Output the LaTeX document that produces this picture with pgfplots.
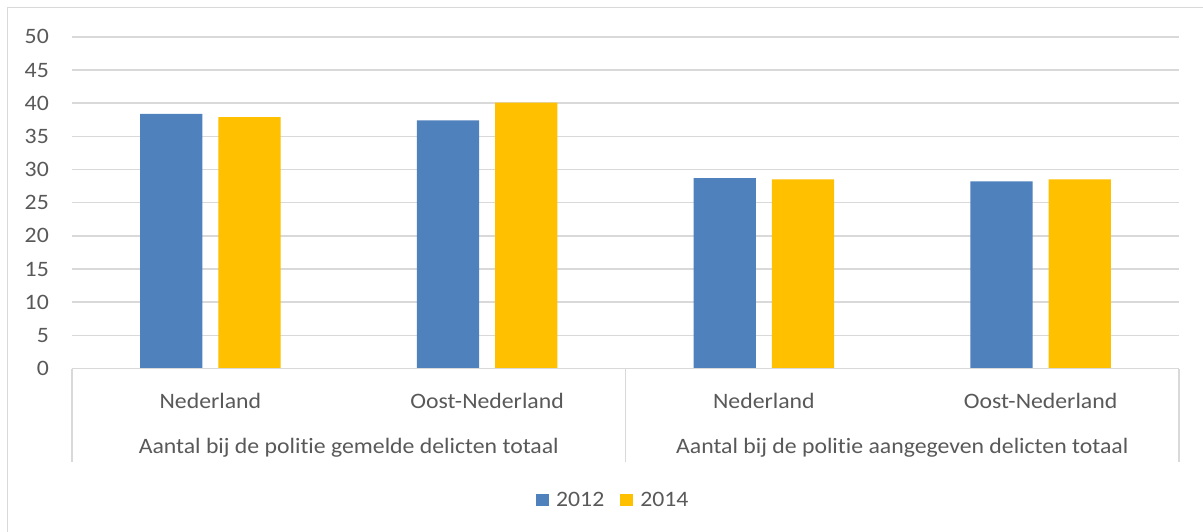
\documentclass[border=0pt]{standalone}
\usepackage{pgfplots}
\pgfplotsset{compat=1.18}
\usepackage{fontspec}
\setmainfont{Carlito}[Ligatures=CommonOff, FakeStretch=1.08]
\definecolor{barblue}{RGB}{79,129,189}
\definecolor{baryellow}{RGB}{255,192,0}
\definecolor{gridgray}{RGB}{217,217,217}
\definecolor{txtgray}{RGB}{89,89,89}
\begin{document}
\begin{tikzpicture}[x=1pt,y=1pt]
\useasboundingbox (0,0) rectangle (1203,531);
\fill[white] (0,0) rectangle (1203,531);
\draw[gridgray, line width=1.5pt] (7.5,-5) -- (7.5,523.5) -- (1210,523.5);
\begin{axis}[
  at={(72pt,162.5pt)}, anchor=south west,
  scale only axis, width=1107pt, height=331.6pt,
  xmin=-0.5, xmax=3.5, ymin=0, ymax=50,
  ytick={0,5,...,50},
  xtick={0,1,2,3},
  xticklabels={Nederland,Oost-Nederland,Nederland,Oost-Nederland},
  major tick length=0pt,
  axis line style={draw=none},
  ymajorgrids, grid style={gridgray, line width=1.5pt},
  clip=false,
  ybar, bar width=0.225,
  tick label style={text=txtgray, font=\fontsize{22}{26}\selectfont},
  /pgf/number format/assume math mode=true,
  yticklabel style={anchor=east, inner sep=0pt, xshift=-23pt},
  xticklabel style={anchor=center, inner sep=0pt, yshift=-32.7pt},
  legend style={at={(0.489,-0.398)}, anchor=center, draw=none, fill=none,
    legend columns=2, font=\fontsize{22}{26}\selectfont, text=txtgray,
    /tikz/every even column/.append style={column sep=14pt}},
  legend image code/.code={\fill[#1] (0pt,-6pt) rectangle (13pt,6pt); \path (18pt,0pt);},
]
\addplot[fill=barblue, draw=none, bar shift=-0.1417] coordinates {(0,38.4) (1,37.4) (2,28.7) (3,28.2)};
\addplot[fill=baryellow, draw=none, bar shift=0.1417] coordinates {(0,37.9) (1,40.1) (2,28.5) (3,28.5)};
\legend{2012,2014}
\draw[gridgray, line width=1.5pt] (axis cs:-0.5,0) -- (axis cs:3.5,0);
\draw[gridgray, line width=1.5pt] (axis cs:-0.5,0) -- (axis cs:-0.5,-14.1);
\draw[gridgray, line width=1.5pt] (axis cs:1.5,0) -- (axis cs:1.5,-14.1);
\draw[gridgray, line width=1.5pt] (axis cs:3.5,0) -- (axis cs:3.5,-14.1);
\node[text=txtgray, font=\fontsize{22}{26}\selectfont, yshift=-79.4pt] at (axis cs:0.5,0) {Aantal bij de politie gemelde delicten totaal};
\node[text=txtgray, font=\fontsize{22}{26}\selectfont, yshift=-79.4pt] at (axis cs:2.5,0) {Aantal bij de politie aangegeven delicten totaal};
\end{axis}
\end{tikzpicture}
\end{document}
